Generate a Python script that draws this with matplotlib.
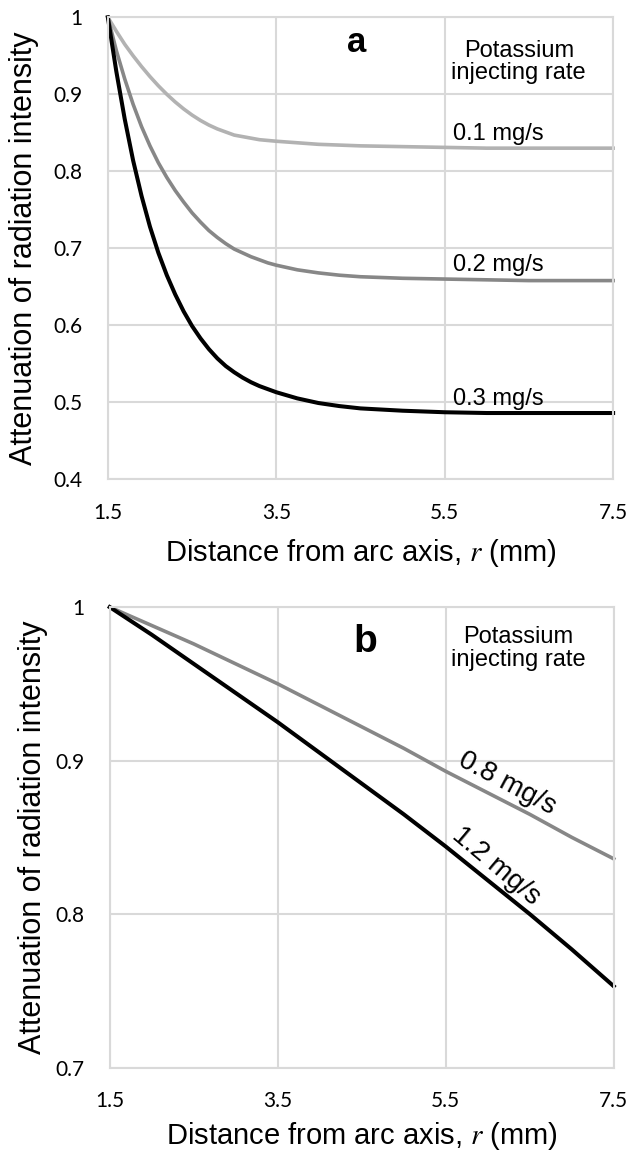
import matplotlib
matplotlib.use("Agg")
import matplotlib.pyplot as plt

plt.rcParams['mathtext.fontset'] = 'stix'

# panel a: attenuation vs distance, potassium 0.1 / 0.2 / 0.3 mg/s
r_a = [1.5, 1.6, 1.7, 1.8, 1.9, 2.0, 2.1, 2.2, 2.3, 2.4, 2.5, 2.6, 2.7, 2.8,
       2.9, 3.0, 3.1, 3.2, 3.3, 3.4, 3.5, 3.75, 4.0, 4.25, 4.5, 5.0, 5.5,
       6.0, 6.5, 7.0, 7.5]
att_01 = [1.000, 0.982, 0.965, 0.950, 0.936, 0.923, 0.911, 0.900, 0.890, 0.881,
          0.873, 0.866, 0.860, 0.855, 0.851, 0.847, 0.845, 0.843, 0.841, 0.840,
          0.839, 0.837, 0.835, 0.834, 0.833, 0.832, 0.831, 0.830, 0.830, 0.830,
          0.830]
att_02 = [1.000, 0.957, 0.920, 0.887, 0.858, 0.833, 0.811, 0.792, 0.775, 0.760,
          0.746, 0.734, 0.723, 0.714, 0.706, 0.699, 0.694, 0.689, 0.685, 0.681,
          0.678, 0.672, 0.668, 0.665, 0.663, 0.661, 0.660, 0.659, 0.658, 0.658,
          0.658]
att_03 = [1.000, 0.930, 0.868, 0.814, 0.768, 0.728, 0.694, 0.665, 0.640, 0.618,
          0.599, 0.583, 0.569, 0.557, 0.547, 0.539, 0.532, 0.526, 0.521, 0.517,
          0.513, 0.505, 0.499, 0.495, 0.492, 0.489, 0.487, 0.486, 0.486, 0.486,
          0.486]

# panel b: potassium 0.8 / 1.2 mg/s
r_b = [1.5, 2.0, 2.5, 3.0, 3.5, 4.0, 4.5, 5.0, 5.5, 6.0, 6.5, 7.0, 7.5]
att_08 = [1.000, 0.988, 0.976, 0.963, 0.950, 0.936, 0.922, 0.908, 0.893, 0.879,
          0.865, 0.850, 0.836]
att_12 = [1.000, 0.982, 0.963, 0.944, 0.925, 0.905, 0.885, 0.865, 0.844, 0.822,
          0.800, 0.777, 0.753]

x_ticks = [1.5, 3.5, 5.5, 7.5]
y_ticks_a = [0.4, 0.5, 0.6, 0.7, 0.8, 0.9, 1.0]
y_ticks_b = [0.7, 0.8, 0.9, 1.0]

grid_col = '#d9d9d9'
tick_font = 'Lato'
text_font = 'Liberation Sans'

fig = plt.figure(figsize=(6.42, 11.52), dpi=100)
ax1 = fig.add_axes([0.168, 0.584, 0.787, 0.401])
ax2 = fig.add_axes([0.171, 0.0733, 0.785, 0.3997])


def style_axes(ax, yticks, ylim):
    ax.set_xlim(1.5, 7.5)
    ax.set_ylim(*ylim)
    ax.set_xticks(x_ticks)
    ax.set_xticklabels([str(t) for t in x_ticks], fontfamily=tick_font, fontsize=15)
    ax.set_yticks(yticks)
    ax.set_yticklabels(['1' if t == 1.0 else f'{t:g}' for t in yticks],
                       fontfamily=tick_font, fontsize=15)
    ax.tick_params(length=0, pad=18, colors='black')
    ax.tick_params(axis='x', pad=17)
    ax.grid(True, color=grid_col, linewidth=1.5)
    ax.set_axisbelow(True)
    for s in ax.spines.values():
        s.set_color(grid_col)
        s.set_linewidth(1.5)
    ax.set_xlabel('Distance from arc axis, $\\mathit{r}$ (mm)',
                  fontfamily=text_font, fontsize=21)
    ax.set_ylabel('Attenuation of radiation intensity',
                  fontfamily=text_font, fontsize=22)


style_axes(ax1, y_ticks_a, (0.4, 1.0))
ax1.plot(r_a, att_01, color='#b2b2b2', lw=2.6, clip_on=False)
ax1.plot(r_a, att_02, color='#878787', lw=2.6, clip_on=False)
ax1.plot(r_a, att_03, color='black', lw=2.9, clip_on=False)
ax1.xaxis.set_label_coords(0.5, -0.125)
ax1.yaxis.set_label_coords(-0.137, 0.5)

ax1.text(4.46, 0.967, 'a', fontfamily=text_font, fontsize=25, fontweight='bold',
         ha='center', va='center')
ax1.text(6.38, 0.942, 'Potassium\ninjecting rate', fontfamily=text_font,
         fontsize=17, ha='center', va='center', linespacing=1.05)
ax1.text(5.6, 0.840, '0.1 mg/s', fontfamily=text_font, fontsize=17, va='baseline')
ax1.text(5.6, 0.671, '0.2 mg/s', fontfamily=text_font, fontsize=17, va='baseline')
ax1.text(5.6, 0.496, '0.3 mg/s', fontfamily=text_font, fontsize=17, va='baseline')

style_axes(ax2, y_ticks_b, (0.7, 1.0))
ax2.plot(r_b, att_08, color='#878787', lw=2.6, clip_on=False)
ax2.plot(r_b, att_12, color='black', lw=2.9, clip_on=False)
ax2.xaxis.set_label_coords(0.5, -0.113)
ax2.yaxis.set_label_coords(-0.123, 0.5)

ax2.text(4.54, 0.977, 'b', fontfamily=text_font, fontsize=28, fontweight='bold',
         ha='center', va='center')
ax2.text(6.36, 0.973, 'Potassium\ninjecting rate', fontfamily=text_font,
         fontsize=17, ha='center', va='center', linespacing=1.05)
ax2.text(6.23, 0.885, '0.8 mg/s', fontfamily=text_font, fontsize=20,
         rotation=-28, ha='center', va='center', rotation_mode='anchor')
ax2.text(6.10, 0.831, '1.2 mg/s', fontfamily=text_font, fontsize=20,
         rotation=-40, ha='center', va='center', rotation_mode='anchor')

fig.savefig('out.png', dpi=100, facecolor='white')
